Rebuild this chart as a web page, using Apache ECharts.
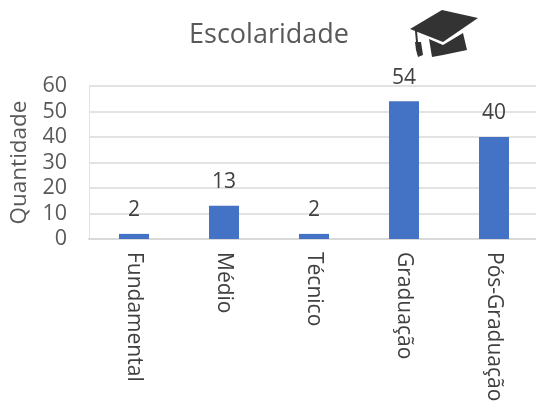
<!DOCTYPE html>
<html><head><meta charset="utf-8">
<style>html,body{margin:0;padding:0;background:#fff}#c{width:536px;height:403px}</style>
<script src="https://cdn.jsdelivr.net/npm/echarts@6/dist/echarts.min.js"></script>
</head><body><div id="c"></div>
<script>
const categories=["Fundamental","Médio","Técnico","Graduação","Pós-Graduação"];
const values=[2,13,2,54,40];
const titleText="Escolaridade";
const yName="Quantidade";
const font="'Open Sans'";
const ink='#333333';
const chart=echarts.init(document.getElementById('c'),null,{renderer:'canvas'});
chart.setOption({
 animation:false,
 backgroundColor:'#fff',
 title:{text:titleText,left:264,top:17,textAlign:'center',textStyle:{fontFamily:font,fontSize:27,fontWeight:'normal',color:'#595959'}},
 grid:{left:89,width:450,top:86,height:153,outerBoundsMode:'none'},
 xAxis:{type:'category',data:categories,
  axisLine:{lineStyle:{color:'#d9d9d9',width:2}},axisTick:{show:false},
  axisLabel:{rotate:-90,interval:0,fontFamily:font,fontSize:21,color:'#404040',margin:13,align:'left',verticalAlign:'middle'}},
 yAxis:{type:'value',min:0,max:60,interval:10,name:yName,nameLocation:'middle',nameGap:58,
  nameTextStyle:{fontFamily:font,fontSize:22.5,color:'#595959'},
  axisLine:{show:true,lineStyle:{color:'#e3e3e3',width:1}},axisTick:{show:false},
  axisLabel:{fontFamily:font,fontSize:21.5,color:'#595959',margin:22},
  splitLine:{lineStyle:{color:'#e3e3e3',width:2}}},
 series:[{type:'bar',data:values,barWidth:30,itemStyle:{color:'#4472c4'},
  label:{show:true,position:'top',distance:13,fontFamily:font,fontSize:21,color:'#404040'}}],
 graphic:[
  {type:'polygon',shape:{points:[[410,29],[442,10],[478,18],[443,42]]},style:{fill:ink}},
  {type:'polygon',shape:{points:[[429,39],[443,45],[463,33],[467,50],[443,55],[432,57]]},style:{fill:ink}},
  {type:'polygon',shape:{points:[[415,31],[417,31],[418,42],[416,42]]},style:{fill:ink}},
  {type:'polygon',shape:{points:[[415,42],[421,42],[423,55],[418,57],[416,50]]},style:{fill:ink}}
 ]
});
</script></body></html>
